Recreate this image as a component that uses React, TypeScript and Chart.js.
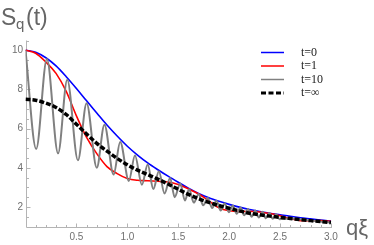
import React, { useEffect, useRef } from "react";
import { Chart, registerables } from "chart.js";

Chart.register(...registerables);

// q·ξ grid shared by the smooth curves
const qGrid = [
  0, 0.1, 0.2, 0.3, 0.4, 0.5, 0.6, 0.7, 0.8, 0.9, 1.0, 1.1, 1.2, 1.3, 1.4, 1.5,
  1.6, 1.7, 1.8, 1.9, 2.0, 2.1, 2.2, 2.3, 2.4, 2.5, 2.6, 2.7, 2.8, 2.9, 3.0,
];
// t = 0
const blueVals = [
  10, 9.9, 9.62, 9.2, 8.65, 8.05, 7.42, 6.8, 6.18, 5.62, 5.1, 4.65, 4.25, 3.9,
  3.57, 3.26, 2.96, 2.69, 2.47, 2.29, 2.13, 1.99, 1.87, 1.77, 1.68, 1.6, 1.52,
  1.45, 1.39, 1.33, 1.28,
];
// t = 1
const redVals = [
  10, 9.85, 9.4, 8.82, 7.9, 6.65, 5.55, 4.72, 4.06, 3.7, 3.45, 3.36, 3.34, 3.31,
  3.27, 3.14, 2.92, 2.66, 2.32, 1.95, 1.8, 1.76, 1.78, 1.74, 1.66, 1.55, 1.4,
  1.3, 1.29, 1.3, 1.27,
];
// t = ∞
const blackVals = [
  7.5, 7.45, 7.3, 7.08, 6.72, 6.22, 5.72, 5.25, 4.85, 4.48, 4.15, 3.88, 3.65,
  3.42, 3.17, 2.9, 2.64, 2.42, 2.23, 2.07, 1.93, 1.8, 1.68, 1.6, 1.53, 1.47,
  1.41, 1.35, 1.3, 1.25, 1.2,
];
// t = 10 (peaks and troughs of the oscillation)
const grayQ = [
  0, 0.105, 0.21, 0.32, 0.41, 0.515, 0.6, 0.7, 0.775, 0.865, 0.93, 1.015, 1.075,
  1.143, 1.2, 1.255, 1.31, 1.365, 1.42, 1.465, 1.52, 1.565, 1.607, 1.653, 1.7,
  1.745, 1.79, 1.833, 1.875, 1.917, 1.955, 1.997, 2.036, 2.074, 2.112, 2.148,
  2.185, 2.221, 2.256, 2.292, 2.327, 2.361, 2.395, 2.428, 2.46, 2.494, 2.6, 2.8,
  3.0,
];
const grayVals = [
  10, 4.96, 9.56, 4.74, 8.5, 4.38, 7.3, 4.0, 6.2, 3.65, 5.32, 3.33, 4.63, 3.13,
  4.17, 2.91, 3.82, 2.68, 3.48, 2.5, 3.2, 2.33, 2.9, 2.22, 2.66, 2.08, 2.46,
  1.94, 2.31, 1.82, 2.18, 1.73, 2.07, 1.65, 1.97, 1.57, 1.89, 1.5, 1.82, 1.46,
  1.75, 1.42, 1.69, 1.39, 1.63, 1.37, 1.41, 1.3, 1.2,
];

const xTickValues = [0.5, 1.0, 1.5, 2.0, 2.5, 3.0];
const xTickLabels = ["0.5", "1.0", "1.5", "2.0", "2.5", "3.0"];
const yTickValues = [2, 4, 6, 8, 10];
const yTickLabels = ["2", "4", "6", "8", "10"];
const legendLabels = ["t=0", "t=1", "t=10", "t=∞"];
const seriesColors = ["rgb(0,0,255)", "rgb(255,0,0)", "rgb(128,128,128)", "#000000"];

const pts = (xs: number[], ys: number[]) => xs.map((x, i) => ({ x, y: ys[i] }));

export default function App() {
  const ref = useRef<HTMLCanvasElement | null>(null);

  useEffect(() => {
    if (!ref.current) return;

    const axesPlugin = {
      id: "mmaAxes",
      beforeDatasetsDraw(chart: any) {
        const { ctx, scales } = chart;
        const xs = scales.x;
        const ys = scales.y;
        const x0 = Math.round(xs.getPixelForValue(0)) + 0.5;
        const y0 = Math.round(ys.getPixelForValue(1)) + 0.5;
        const xEnd = xs.right;
        const yTop = ys.top;
        ctx.save();
        ctx.strokeStyle = "#b4b4b4";
        ctx.lineWidth = 1;
        ctx.beginPath();
        ctx.moveTo(x0, y0);
        ctx.lineTo(xEnd, y0);
        ctx.moveTo(x0, y0);
        ctx.lineTo(x0, yTop);
        // x ticks (minor every 0.1, major every 0.5)
        for (let k = 1; k <= 30; k++) {
          const px = Math.round(xs.getPixelForValue(k / 10)) + 0.5;
          const len = k % 5 === 0 ? 4 : 2.5;
          ctx.moveTo(px, y0);
          ctx.lineTo(px, y0 - len);
        }
        // y ticks (minor every 0.5, major every 2)
        for (let k = 3; k <= 21; k++) {
          const v = k / 2;
          const py = Math.round(ys.getPixelForValue(v)) + 0.5;
          const len = v % 2 === 0 ? 4 : 2.5;
          ctx.moveTo(x0, py);
          ctx.lineTo(x0 + len, py);
        }
        ctx.stroke();

        ctx.fillStyle = "#707070";
        ctx.font = "10px 'Liberation Sans', Arial, sans-serif";
        ctx.textAlign = "center";
        ctx.textBaseline = "middle";
        xTickValues.forEach((v, i) => {
          ctx.fillText(xTickLabels[i], xs.getPixelForValue(v), y0 + 10);
        });
        ctx.textAlign = "right";
        yTickValues.forEach((v, i) => {
          ctx.fillText(yTickLabels[i], x0 - 3.5, ys.getPixelForValue(v));
        });

        // axis titles
        ctx.fillStyle = "#666666";
        ctx.textAlign = "left";
        ctx.textBaseline = "alphabetic";
        ctx.font = "23px 'Liberation Sans', Arial, sans-serif";
        ctx.fillText("S", 1, 25);
        ctx.font = "15px 'Liberation Sans', Arial, sans-serif";
        ctx.fillText("q", 16, 29);
        ctx.font = "23px 'Liberation Sans', Arial, sans-serif";
        ctx.fillText("(t)", 26, 25);
        ctx.font = "22px 'Liberation Sans', Arial, sans-serif";
        ctx.fillText("qξ", 346, 235);
        ctx.restore();
      },
      afterDraw(chart: any) {
        const { ctx } = chart;
        ctx.save();
        const rowsY = [52.5, 66, 79.5, 93];
        rowsY.forEach((yy, i) => {
          ctx.beginPath();
          ctx.strokeStyle = seriesColors[i];
          ctx.lineWidth = i === 3 ? 3 : 1.5;
          ctx.setLineDash(i === 3 ? [5, 2.5] : []);
          ctx.moveTo(261, yy);
          ctx.lineTo(284, yy);
          ctx.stroke();
        });
        ctx.setLineDash([]);
        ctx.fillStyle = "#222222";
        ctx.font = "12px 'Liberation Serif', 'Times New Roman', serif";
        ctx.textAlign = "left";
        ctx.textBaseline = "middle";
        rowsY.forEach((yy, i) => ctx.fillText(legendLabels[i], 301, yy));
        ctx.restore();
      },
    };

    const common = {
      pointRadius: 0,
      pointHoverRadius: 0,
      fill: false,
      cubicInterpolationMode: "monotone" as const,
    };

    const chart = new Chart(ref.current, {
      type: "line",
      data: {
        datasets: [
          { ...common, label: legendLabels[0], data: pts(qGrid, blueVals), borderColor: seriesColors[0], borderWidth: 1.6, order: 3 },
          { ...common, label: legendLabels[1], data: pts(qGrid, redVals), borderColor: seriesColors[1], borderWidth: 1.6, order: 2 },
          { ...common, label: legendLabels[2], data: pts(grayQ, grayVals), borderColor: seriesColors[2], borderWidth: 2, order: 1 },
          { ...common, label: legendLabels[3], data: pts(qGrid, blackVals), borderColor: seriesColors[3], borderWidth: 3.5, borderDash: [5, 2], order: 0 },
        ],
      },
      options: {
        animation: false,
        responsive: false,
        devicePixelRatio: 1,
        layout: { padding: { left: 25.5, right: 42, top: 40.5, bottom: 18.5 } },
        scales: {
          x: { type: "linear", min: 0, max: 3.01, display: false },
          y: { type: "linear", min: 1, max: 10.5, display: false },
        },
        plugins: { legend: { display: false }, tooltip: { enabled: false } },
        events: [],
      },
      plugins: [axesPlugin],
    });
    return () => chart.destroy();
  }, []);

  return (
    <div style={{ position: "fixed", left: 0, top: 0, width: 374, height: 245, background: "#fff" }}>
      <canvas ref={ref} width={374} height={245} style={{ display: "block", width: 374, height: 245 }} />
    </div>
  );
}
